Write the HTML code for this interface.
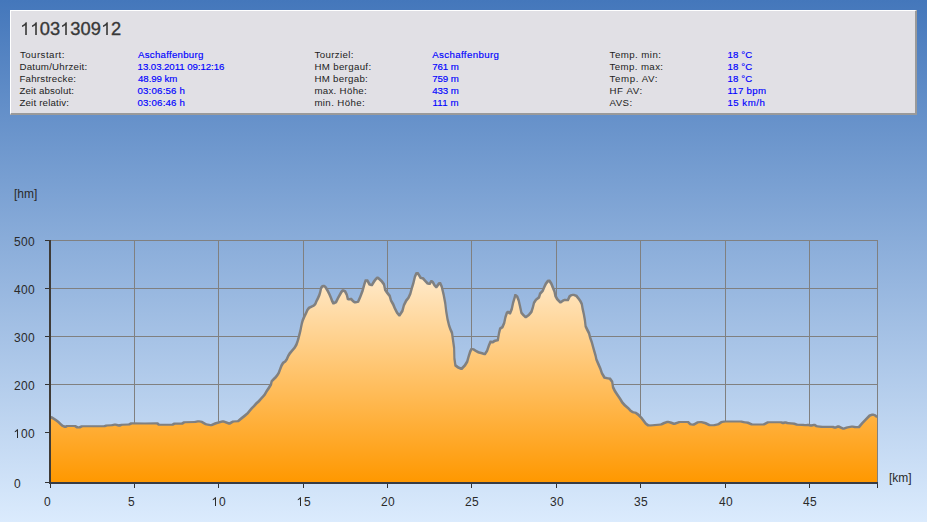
<!DOCTYPE html>
<html><head><meta charset="utf-8"><style>
html,body{margin:0;padding:0;}
body{width:927px;height:522px;overflow:hidden;position:relative;background:linear-gradient(to bottom,#4477bb 0px,#dbebfd 522px);font-family:"Liberation Sans",sans-serif;}
#panel{position:absolute;left:10px;top:10px;width:904px;height:102px;background:#e1e0e5;border-top:1px solid #fff;border-left:1px solid #fff;border-right:2px solid #9a9a9a;border-bottom:2px solid #9a9a9a;}
svg.one{position:static;display:inline-block;vertical-align:baseline;}
.d{display:inline-block;width:7px;}
#title{position:absolute;left:19.5px;top:19px;font-size:18.3px;color:#383838;-webkit-text-stroke:0.35px #383838;white-space:nowrap;line-height:20px;}
.l,.v{position:absolute;font-size:9.7px;line-height:12px;white-space:nowrap;}
.l{color:#222;}
.v{color:#0000ff;-webkit-text-stroke:0.15px #0000ff;}
svg{position:absolute;left:0;top:0;}
.ax{position:absolute;font-size:12px;line-height:14px;color:#2a2a2a;white-space:nowrap;}
</style></head><body>
<div id="panel"></div><div id="title"><svg class="one" width="10.178" height="13.403" viewBox="0 -1500 1139 1500"><path d="M763,0 L583,0 L583,-1147 Q518,-1085 412,-1023 Q306,-961 222,-930 L222,-1104 Q373,-1175 486,-1276 Q599,-1377 646,-1472 L763,-1472 Z" fill="#383838"/></svg><svg class="one" width="10.178" height="13.403" viewBox="0 -1500 1139 1500"><path d="M763,0 L583,0 L583,-1147 Q518,-1085 412,-1023 Q306,-961 222,-930 L222,-1104 Q373,-1175 486,-1276 Q599,-1377 646,-1472 L763,-1472 Z" fill="#383838"/></svg>03<svg class="one" width="10.178" height="13.403" viewBox="0 -1500 1139 1500"><path d="M763,0 L583,0 L583,-1147 Q518,-1085 412,-1023 Q306,-961 222,-930 L222,-1104 Q373,-1175 486,-1276 Q599,-1377 646,-1472 L763,-1472 Z" fill="#383838"/></svg>309<svg class="one" width="10.178" height="13.403" viewBox="0 -1500 1139 1500"><path d="M763,0 L583,0 L583,-1147 Q518,-1085 412,-1023 Q306,-961 222,-930 L222,-1104 Q373,-1175 486,-1276 Q599,-1377 646,-1472 L763,-1472 Z" fill="#383838"/></svg>2</div><div class="l" style="left:20.00px;top:49.0px;letter-spacing:0.445px;">Tourstart:</div><div class="v" style="left:138.00px;top:49.0px;letter-spacing:0.250px;">Aschaffenburg</div><div class="l" style="left:19.40px;top:61.0px;letter-spacing:0.246px;">Datum/Uhrzeit:</div><div class="v" style="left:137.60px;top:61.0px;letter-spacing:-0.078px;">13.03.2011 09:12:16</div><div class="l" style="left:19.40px;top:73.0px;letter-spacing:0.254px;">Fahrstrecke:</div><div class="v" style="left:138.00px;top:73.0px;letter-spacing:-0.058px;">48.99 km</div><div class="l" style="left:19.40px;top:85.0px;letter-spacing:0.150px;">Zeit absolut:</div><div class="v" style="left:137.40px;top:85.0px;letter-spacing:0.201px;">03:06:56 h</div><div class="l" style="left:19.40px;top:97.0px;letter-spacing:0.183px;">Zeit relativ:</div><div class="v" style="left:137.40px;top:97.0px;letter-spacing:0.201px;">03:06:46 h</div><div class="l" style="left:314.60px;top:49.0px;letter-spacing:0.352px;">Tourziel:</div><div class="v" style="left:432.20px;top:49.0px;letter-spacing:0.367px;">Aschaffenburg</div><div class="l" style="left:314.40px;top:61.0px;letter-spacing:0.340px;">HM bergauf:</div><div class="v" style="left:432.20px;top:61.0px;letter-spacing:-0.050px;">761 m</div><div class="l" style="left:314.40px;top:73.0px;letter-spacing:0.312px;">HM bergab:</div><div class="v" style="left:432.20px;top:73.0px;letter-spacing:-0.050px;">759 m</div><div class="l" style="left:314.40px;top:85.0px;letter-spacing:0.310px;">max. Höhe:</div><div class="v" style="left:432.20px;top:85.0px;letter-spacing:-0.050px;">433 m</div><div class="l" style="left:314.40px;top:97.0px;letter-spacing:0.377px;">min. Höhe:</div><div class="v" style="left:432.60px;top:97.0px;letter-spacing:0.100px;">111 m</div><div class="l" style="left:609.60px;top:49.0px;letter-spacing:0.444px;">Temp. min:</div><div class="v" style="left:727.40px;top:49.0px;letter-spacing:0.150px;">18 °C</div><div class="l" style="left:609.60px;top:61.0px;letter-spacing:0.377px;">Temp. max:</div><div class="v" style="left:727.40px;top:61.0px;letter-spacing:0.150px;">18 °C</div><div class="l" style="left:609.60px;top:73.0px;letter-spacing:0.598px;">Temp. AV:</div><div class="v" style="left:727.40px;top:73.0px;letter-spacing:0.150px;">18 °C</div><div class="l" style="left:609.40px;top:85.0px;letter-spacing:0.640px;">HF AV:</div><div class="v" style="left:727.40px;top:85.0px;letter-spacing:0.267px;">117 bpm</div><div class="l" style="left:609.60px;top:97.0px;letter-spacing:0.400px;">AVS:</div><div class="v" style="left:727.40px;top:97.0px;letter-spacing:0.500px;">15 km/h</div>
<svg width="927" height="522" viewBox="0 0 927 522">
<defs><linearGradient id="g" x1="0" y1="240" x2="0" y2="482" gradientUnits="userSpaceOnUse">
<stop offset="0" stop-color="#fff8ee"/><stop offset="1" stop-color="#ff9800"/></linearGradient></defs>
<rect x="51" y="240" width="827" height="1" fill="#808080"/><rect x="51" y="288" width="827" height="1" fill="#808080"/><rect x="51" y="336" width="827" height="1" fill="#808080"/><rect x="51" y="384" width="827" height="1" fill="#808080"/><rect x="51" y="432" width="827" height="1" fill="#808080"/><rect x="134" y="240" width="1" height="242" fill="#808080"/><rect x="218" y="240" width="1" height="242" fill="#808080"/><rect x="303" y="240" width="1" height="242" fill="#808080"/><rect x="387" y="240" width="1" height="242" fill="#808080"/><rect x="471" y="240" width="1" height="242" fill="#808080"/><rect x="556" y="240" width="1" height="242" fill="#808080"/><rect x="640" y="240" width="1" height="242" fill="#808080"/><rect x="725" y="240" width="1" height="242" fill="#808080"/><rect x="809" y="240" width="1" height="242" fill="#808080"/><rect x="877" y="240" width="1" height="242" fill="#808080"/>
<path d="M51,483 L51,417.1 L50.5,417.1 L51.5,417.4 L53.8,418.8 L56.1,420.2 L58.4,422 L60.7,424.3 L62.4,425.7 L65.3,426.9 L67,426 L75,426 L77.3,427.4 L79.6,427.4 L81.9,426.3 L104.3,426.3 L106.5,425.5 L111.9,425.3 L115.1,424.5 L119.4,425.6 L121.6,424.7 L129.1,424.5 L131.3,423.4 L145,423.5 L157.3,423.4 L158.9,424.7 L172.4,424.7 L174.5,423.6 L182.1,423.6 L184.2,422.3 L195,422 L198.3,421.3 L201.5,421.7 L205.8,424.2 L211.2,425.3 L215.5,423.4 L223,421.3 L229.4,423.6 L233.1,421.5 L238,421.2 L240.5,419.1 L244.9,415.6 L247.7,413.3 L249.5,411 L251.8,408.3 L254.1,406 L256.4,403.4 L258.7,401.4 L261,398.8 L263.3,396.3 L264.6,394.8 L266.6,391.3 L268.9,387.9 L271,384.4 L271.7,381.2 L273.5,379.4 L275.8,377.1 L277.6,374.8 L278.7,373 L280.1,369.3 L281.5,365.6 L283.1,362.9 L285.2,361.5 L286.8,359.2 L288.2,356 L289.8,353.4 L292,350.8 L294.6,347.8 L296.4,344.6 L297.6,341.3 L298.5,338.1 L299.2,335.4 L299.9,332.6 L300.6,329.8 L301,327.5 L301.9,323.3 L302.8,320.1 L304.4,316.4 L306,313.2 L307.4,310 L309,307.9 L311.3,306.8 L313.4,305.8 L314.4,305 L315.4,303.8 L316.4,301.3 L318,298.1 L319.4,294.9 L320.3,291.7 L321,288.4 L322,286.6 L323.6,285.9 L325.2,286.8 L326.6,288.9 L327.9,291.2 L329.3,294 L330.7,297.2 L332.1,300.9 L333.4,303.4 L336,302.1 L338.3,297.5 L341.3,292.1 L342.8,290.3 L345.1,291.4 L346.8,294.8 L347.8,298.9 L349,299.5 L351,298.9 L353.2,301.3 L355,302.4 L358.1,301.7 L360.3,296.7 L362.6,290.6 L364.5,283.7 L365.7,280.2 L367.2,280.3 L369.5,284.4 L371.8,285.2 L374.1,281.4 L376.1,278.8 L377.5,277.6 L379.5,279.1 L381.8,281.4 L384,284.4 L385.1,289.8 L387.1,292.6 L389.7,295.9 L391,300.5 L393.2,304.4 L394.8,308.2 L397.1,312.8 L399.4,315.5 L402.4,310.9 L403.9,305.2 L406.2,300.6 L408.5,297.8 L410.3,293.7 L411.8,288.3 L413.4,283 L414.9,276.8 L416.4,273.3 L417.6,273 L419.1,275.3 L420.7,277.9 L423,278.4 L425.3,281 L427.6,283.4 L429.6,284 L431.4,281 L432.9,282.2 L434.5,285.3 L436.3,287.1 L439.1,283.4 L440.1,283 L441.7,286.5 L443.6,294.5 L445.2,302.9 L446.2,311.3 L447.5,319 L449,325.3 L450.3,329 L452,332.9 L453,340.1 L454.1,347.8 L454.4,358.5 L455.4,365.4 L458,367.4 L461.5,368.9 L464.9,365.4 L467.2,361.6 L468.7,356.2 L470.2,351.6 L471.5,349 L473.3,349.3 L475.6,350.8 L478.6,352.4 L481.7,353.1 L484.8,354.2 L487.1,350.8 L488.9,345.5 L490.6,341.6 L492.4,342.4 L494.7,340.9 L497.8,340.1 L499,333.2 L500.1,328.6 L502.4,327.1 L504.2,323 L505.4,317.3 L506.9,312.7 L508,311.9 L510,313.5 L511.8,308.9 L513.1,302.8 L514.6,297.7 L515.3,295.1 L517.2,296.6 L518.7,300.5 L519.9,305.8 L521.4,312.7 L523.3,315 L525.7,317.3 L528.8,315 L531.4,311.9 L532.9,307.3 L534,302.8 L536,299.7 L539,297.4 L540.1,293.6 L542.6,291 L544.4,286.7 L545.9,283.6 L548,280.9 L549.3,280.6 L551.3,283.6 L552.8,287.4 L554.4,291.3 L555.4,295.9 L557.2,299.1 L560.4,302.5 L563.2,300.5 L565,299.9 L567.8,300.2 L569.6,296.4 L571.1,295.3 L573.4,294.8 L576.4,295.9 L578.7,298.7 L580.3,301 L581.8,304 L582.6,308.6 L583.8,314 L584.9,320.1 L585.6,326.2 L587.2,329.6 L589,333.1 L590.2,337.7 L591.8,342.3 L593.3,347.7 L594.8,353 L595.6,355.8 L596.4,359.5 L598.4,364.1 L600.4,368.7 L601.9,373.3 L604.5,377.6 L607.2,378.2 L609.9,378.6 L612.2,381.7 L613,387.1 L614.8,390.9 L617.3,394.7 L619.9,398.5 L622.2,402.4 L624.9,405.4 L628.3,408.2 L630.6,410.8 L632.9,412.3 L635.6,412.8 L638.2,414.6 L641.3,417.7 L643.6,420.7 L645.9,423.8 L648.2,425.4 L650,425.5 L661.2,424.5 L663.9,423.1 L667.7,421.7 L670.9,422.6 L674.1,423.9 L677.4,422.8 L679.5,422 L688.1,422 L690.3,424.2 L693.5,424.7 L697.9,422.3 L701.1,422 L705.4,423.1 L709.7,425.3 L714,425.3 L718.4,424.2 L721.6,422 L724.8,421.5 L741,421.5 L744.2,422.3 L747.6,422.6 L751.9,424.5 L763.7,424.5 L768,422.3 L781,422.3 L783.2,423.1 L785.3,422.3 L787.5,423.1 L793.9,423.6 L797.2,424.7 L802.6,424.9 L805.8,425.3 L808,424.9 L811.2,425.6 L814.4,424.7 L816.6,426.3 L822,426.9 L832.8,426.9 L835,427.8 L838.3,426.4 L840.7,427.5 L843.4,428.7 L846.9,427.5 L852.2,426.5 L855.3,427.1 L858.9,427.1 L862.2,423.3 L865.8,419.5 L869.6,415.6 L872.6,414.5 L874.9,415.3 L876.8,416.8 L877,416.8 L877,483 Z" fill="url(#g)"/>
<path d="M49.45,416.31 49.71,416.05 51.29,416.05 52.29,416.35 52.55,416.61 52.55,418.19 52.29,418.45 50.71,418.45 49.71,418.15 49.45,417.89ZM50.45,416.61 50.71,416.35 52.29,416.35 54.59,417.75 54.85,418.01 54.85,419.59 54.59,419.85 53.01,419.85 50.71,418.45 50.45,418.19ZM52.75,418.01 53.01,417.75 54.59,417.75 56.89,419.15 57.15,419.41 57.15,420.99 56.89,421.25 55.31,421.25 53.01,419.85 52.75,419.59ZM55.05,419.41 55.31,419.15 56.89,419.15 59.19,420.95 59.45,421.21 59.45,422.79 59.19,423.05 57.61,423.05 55.31,421.25 55.05,420.99ZM57.35,421.21 57.61,420.95 59.19,420.95 59.45,421.21 61.75,423.51 61.75,425.09 61.49,425.35 59.91,425.35 57.35,422.79ZM59.65,423.51 59.91,423.25 61.49,423.25 63.19,424.65 63.45,424.91 63.45,426.49 63.19,426.75 61.61,426.75 59.91,425.35 59.65,425.09ZM61.35,424.91 61.61,424.65 63.19,424.65 66.09,425.85 66.35,426.11 66.35,427.69 66.09,427.95 64.51,427.95 61.61,426.75 61.35,426.49ZM64.25,426.11 64.51,425.85 66.21,424.95 67.79,424.95 68.05,425.21 68.05,426.79 67.79,427.05 66.09,427.95 64.51,427.95 64.25,427.69ZM65.95,425.21 66.21,424.95 75.79,424.95 76.05,425.21 76.05,426.79 75.79,427.05 66.21,427.05 65.95,426.79ZM73.95,425.21 74.21,424.95 75.79,424.95 78.09,426.35 78.35,426.61 78.35,428.19 78.09,428.45 76.51,428.45 74.21,427.05 73.95,426.79ZM76.25,426.61 76.51,426.35 80.39,426.35 80.65,426.61 80.65,428.19 80.39,428.45 76.51,428.45 76.25,428.19ZM78.55,426.61 78.81,426.35 81.11,425.25 82.69,425.25 82.95,425.51 82.95,427.09 82.69,427.35 80.39,428.45 78.81,428.45 78.55,428.19ZM80.85,425.51 81.11,425.25 105.09,425.25 105.35,425.51 105.35,427.09 105.09,427.35 81.11,427.35 80.85,427.09ZM103.25,425.51 103.51,425.25 105.71,424.45 107.29,424.45 107.55,424.71 107.55,426.29 107.29,426.55 105.09,427.35 103.51,427.35 103.25,427.09ZM105.45,424.71 105.71,424.45 111.11,424.25 112.69,424.25 112.95,424.51 112.95,426.09 112.69,426.35 107.29,426.55 105.71,426.55 105.45,426.29ZM110.85,424.51 111.11,424.25 114.31,423.45 115.89,423.45 116.15,423.71 116.15,425.29 115.89,425.55 112.69,426.35 111.11,426.35 110.85,426.09ZM114.05,423.71 114.31,423.45 115.89,423.45 120.19,424.55 120.45,424.81 120.45,426.39 120.19,426.65 118.61,426.65 114.31,425.55 114.05,425.29ZM118.35,424.81 118.61,424.55 120.81,423.65 122.39,423.65 122.65,423.91 122.65,425.49 122.39,425.75 120.19,426.65 118.61,426.65 118.35,426.39ZM120.55,423.91 120.81,423.65 128.31,423.45 129.89,423.45 130.15,423.71 130.15,425.29 129.89,425.55 122.39,425.75 120.81,425.75 120.55,425.49ZM128.05,423.71 128.31,423.45 130.51,422.35 132.09,422.35 132.35,422.61 132.35,424.19 132.09,424.45 129.89,425.55 128.31,425.55 128.05,425.29ZM130.25,422.61 130.51,422.35 132.09,422.35 145.79,422.45 146.05,422.71 146.05,424.29 145.79,424.55 144.21,424.55 130.51,424.45 130.25,424.19ZM143.95,422.71 144.21,422.45 156.51,422.35 158.09,422.35 158.35,422.61 158.35,424.19 158.09,424.45 145.79,424.55 144.21,424.55 143.95,424.29ZM156.25,422.61 156.51,422.35 158.09,422.35 159.69,423.65 159.95,423.91 159.95,425.49 159.69,425.75 158.11,425.75 156.51,424.45 156.25,424.19ZM157.85,423.91 158.11,423.65 173.19,423.65 173.45,423.91 173.45,425.49 173.19,425.75 158.11,425.75 157.85,425.49ZM171.35,423.91 171.61,423.65 173.71,422.55 175.29,422.55 175.55,422.81 175.55,424.39 175.29,424.65 173.19,425.75 171.61,425.75 171.35,425.49ZM173.45,422.81 173.71,422.55 182.89,422.55 183.15,422.81 183.15,424.39 182.89,424.65 173.71,424.65 173.45,424.39ZM181.05,422.81 181.31,422.55 183.41,421.25 184.99,421.25 185.25,421.51 185.25,423.09 184.99,423.35 182.89,424.65 181.31,424.65 181.05,424.39ZM183.15,421.51 183.41,421.25 194.21,420.95 195.79,420.95 196.05,421.21 196.05,422.79 195.79,423.05 184.99,423.35 183.41,423.35 183.15,423.09ZM193.95,421.21 194.21,420.95 197.51,420.25 199.09,420.25 199.35,420.51 199.35,422.09 199.09,422.35 195.79,423.05 194.21,423.05 193.95,422.79ZM197.25,420.51 197.51,420.25 199.09,420.25 202.29,420.65 202.55,420.91 202.55,422.49 202.29,422.75 200.71,422.75 197.51,422.35 197.25,422.09ZM200.45,420.91 200.71,420.65 202.29,420.65 206.59,423.15 206.85,423.41 206.85,424.99 206.59,425.25 205.01,425.25 200.71,422.75 200.45,422.49ZM204.75,423.41 205.01,423.15 206.59,423.15 211.99,424.25 212.25,424.51 212.25,426.09 211.99,426.35 210.41,426.35 205.01,425.25 204.75,424.99ZM210.15,424.51 210.41,424.25 214.71,422.35 216.29,422.35 216.55,422.61 216.55,424.19 216.29,424.45 211.99,426.35 210.41,426.35 210.15,426.09ZM214.45,422.61 214.71,422.35 222.21,420.25 223.79,420.25 224.05,420.51 224.05,422.09 223.79,422.35 216.29,424.45 214.71,424.45 214.45,424.19ZM221.95,420.51 222.21,420.25 223.79,420.25 230.19,422.55 230.45,422.81 230.45,424.39 230.19,424.65 228.61,424.65 222.21,422.35 221.95,422.09ZM228.35,422.81 228.61,422.55 232.31,420.45 233.89,420.45 234.15,420.71 234.15,422.29 233.89,422.55 230.19,424.65 228.61,424.65 228.35,424.39ZM232.05,420.71 232.31,420.45 237.21,420.15 238.79,420.15 239.05,420.41 239.05,421.99 238.79,422.25 233.89,422.55 232.31,422.55 232.05,422.29ZM236.95,420.41 237.21,420.15 239.71,418.05 241.29,418.05 241.55,418.31 241.55,419.89 241.29,420.15 238.79,422.25 237.21,422.25 236.95,421.99ZM239.45,418.31 239.71,418.05 244.11,414.55 245.69,414.55 245.95,414.81 245.95,416.39 245.69,416.65 241.29,420.15 239.71,420.15 239.45,419.89ZM243.85,414.81 244.11,414.55 246.91,412.25 248.49,412.25 248.75,412.51 248.75,414.09 248.49,414.35 245.69,416.65 244.11,416.65 243.85,416.39ZM246.65,412.51 248.45,410.21 248.71,409.95 250.29,409.95 250.55,410.21 250.55,411.79 248.75,414.09 248.49,414.35 246.91,414.35 246.65,414.09ZM248.45,410.21 250.75,407.51 251.01,407.25 252.59,407.25 252.85,407.51 252.85,409.09 250.55,411.79 250.29,412.05 248.71,412.05 248.45,411.79ZM250.75,407.51 253.31,404.95 254.89,404.95 255.15,405.21 255.15,406.79 252.59,409.35 251.01,409.35 250.75,409.09ZM253.05,405.21 255.35,402.61 255.61,402.35 257.19,402.35 257.45,402.61 257.45,404.19 255.15,406.79 254.89,407.05 253.31,407.05 253.05,406.79ZM255.35,402.61 255.61,402.35 257.91,400.35 259.49,400.35 259.75,400.61 259.75,402.19 259.49,402.45 257.19,404.45 255.61,404.45 255.35,404.19ZM257.65,400.61 259.95,398.01 260.21,397.75 261.79,397.75 262.05,398.01 262.05,399.59 259.75,402.19 259.49,402.45 257.91,402.45 257.65,402.19ZM259.95,398.01 262.25,395.51 262.51,395.25 264.09,395.25 264.35,395.51 264.35,397.09 262.05,399.59 261.79,399.85 260.21,399.85 259.95,399.59ZM262.25,395.51 263.55,394.01 263.81,393.75 265.39,393.75 265.65,394.01 265.65,395.59 264.35,397.09 264.09,397.35 262.51,397.35 262.25,397.09ZM263.55,394.01 265.55,390.51 265.81,390.25 267.39,390.25 267.65,390.51 267.65,392.09 265.65,395.59 265.39,395.85 263.81,395.85 263.55,395.59ZM265.55,390.51 267.85,387.11 268.11,386.85 269.69,386.85 269.95,387.11 269.95,388.69 267.65,392.09 267.39,392.35 265.81,392.35 265.55,392.09ZM267.85,387.11 269.95,383.61 270.21,383.35 271.79,383.35 272.05,383.61 272.05,385.19 269.95,388.69 269.69,388.95 268.11,388.95 267.85,388.69ZM269.95,383.61 270.65,380.41 270.91,380.15 272.49,380.15 272.75,380.41 272.75,381.99 272.05,385.19 271.79,385.45 270.21,385.45 269.95,385.19ZM270.65,380.41 272.71,378.35 274.29,378.35 274.55,378.61 274.55,380.19 272.49,382.25 270.91,382.25 270.65,381.99ZM272.45,378.61 275.01,376.05 276.59,376.05 276.85,376.31 276.85,377.89 274.29,380.45 272.71,380.45 272.45,380.19ZM274.75,376.31 276.55,374.01 276.81,373.75 278.39,373.75 278.65,374.01 278.65,375.59 276.85,377.89 276.59,378.15 275.01,378.15 274.75,377.89ZM276.55,374.01 277.65,372.21 277.91,371.95 279.49,371.95 279.75,372.21 279.75,373.79 278.65,375.59 278.39,375.85 276.81,375.85 276.55,375.59ZM277.65,372.21 279.05,368.51 279.31,368.25 280.89,368.25 281.15,368.51 281.15,370.09 279.75,373.79 279.49,374.05 277.91,374.05 277.65,373.79ZM279.05,368.51 280.45,364.81 280.71,364.55 282.29,364.55 282.55,364.81 282.55,366.39 281.15,370.09 280.89,370.35 279.31,370.35 279.05,370.09ZM280.45,364.81 282.05,362.11 282.31,361.85 283.89,361.85 284.15,362.11 284.15,363.69 282.55,366.39 282.29,366.65 280.71,366.65 280.45,366.39ZM282.05,362.11 282.31,361.85 284.41,360.45 285.99,360.45 286.25,360.71 286.25,362.29 285.99,362.55 283.89,363.95 282.31,363.95 282.05,363.69ZM284.15,360.71 285.75,358.41 286.01,358.15 287.59,358.15 287.85,358.41 287.85,359.99 286.25,362.29 285.99,362.55 284.41,362.55 284.15,362.29ZM285.75,358.41 287.15,355.21 287.41,354.95 288.99,354.95 289.25,355.21 289.25,356.79 287.85,359.99 287.59,360.25 286.01,360.25 285.75,359.99ZM287.15,355.21 288.75,352.61 289.01,352.35 290.59,352.35 290.85,352.61 290.85,354.19 289.25,356.79 288.99,357.05 287.41,357.05 287.15,356.79ZM288.75,352.61 290.95,350.01 291.21,349.75 292.79,349.75 293.05,350.01 293.05,351.59 290.85,354.19 290.59,354.45 289.01,354.45 288.75,354.19ZM290.95,350.01 293.55,347.01 293.81,346.75 295.39,346.75 295.65,347.01 295.65,348.59 293.05,351.59 292.79,351.85 291.21,351.85 290.95,351.59ZM293.55,347.01 295.35,343.81 295.61,343.55 297.19,343.55 297.45,343.81 297.45,345.39 295.65,348.59 295.39,348.85 293.81,348.85 293.55,348.59ZM295.35,343.81 296.55,340.51 296.81,340.25 298.39,340.25 298.65,340.51 298.65,342.09 297.45,345.39 297.19,345.65 295.61,345.65 295.35,345.39ZM296.55,340.51 297.45,337.31 297.71,337.05 299.29,337.05 299.55,337.31 299.55,338.89 298.65,342.09 298.39,342.35 296.81,342.35 296.55,342.09ZM297.45,337.31 298.15,334.61 298.41,334.35 299.99,334.35 300.25,334.61 300.25,336.19 299.55,338.89 299.29,339.15 297.71,339.15 297.45,338.89ZM298.15,334.61 298.85,331.81 299.11,331.55 300.69,331.55 300.95,331.81 300.95,333.39 300.25,336.19 299.99,336.45 298.41,336.45 298.15,336.19ZM298.85,331.81 299.55,329.01 299.81,328.75 301.39,328.75 301.65,329.01 301.65,330.59 300.95,333.39 300.69,333.65 299.11,333.65 298.85,333.39ZM299.55,329.01 299.95,326.71 300.21,326.45 301.79,326.45 302.05,326.71 302.05,328.29 301.65,330.59 301.39,330.85 299.81,330.85 299.55,330.59ZM299.95,326.71 300.85,322.51 301.11,322.25 302.69,322.25 302.95,322.51 302.95,324.09 302.05,328.29 301.79,328.55 300.21,328.55 299.95,328.29ZM300.85,322.51 301.75,319.31 302.01,319.05 303.59,319.05 303.85,319.31 303.85,320.89 302.95,324.09 302.69,324.35 301.11,324.35 300.85,324.09ZM301.75,319.31 303.35,315.61 303.61,315.35 305.19,315.35 305.45,315.61 305.45,317.19 303.85,320.89 303.59,321.15 302.01,321.15 301.75,320.89ZM303.35,315.61 304.95,312.41 305.21,312.15 306.79,312.15 307.05,312.41 307.05,313.99 305.45,317.19 305.19,317.45 303.61,317.45 303.35,317.19ZM304.95,312.41 306.35,309.21 306.61,308.95 308.19,308.95 308.45,309.21 308.45,310.79 307.05,313.99 306.79,314.25 305.21,314.25 304.95,313.99ZM306.35,309.21 307.95,307.11 308.21,306.85 309.79,306.85 310.05,307.11 310.05,308.69 308.45,310.79 308.19,311.05 306.61,311.05 306.35,310.79ZM307.95,307.11 308.21,306.85 310.51,305.75 312.09,305.75 312.35,306.01 312.35,307.59 312.09,307.85 309.79,308.95 308.21,308.95 307.95,308.69ZM310.25,306.01 310.51,305.75 312.61,304.75 314.19,304.75 314.45,305.01 314.45,306.59 314.19,306.85 312.09,307.85 310.51,307.85 310.25,307.59ZM312.35,305.01 312.61,304.75 313.61,303.95 315.19,303.95 315.45,304.21 315.45,305.79 315.19,306.05 314.19,306.85 312.61,306.85 312.35,306.59ZM313.35,304.21 314.35,303.01 314.61,302.75 316.19,302.75 316.45,303.01 316.45,304.59 315.45,305.79 315.19,306.05 313.61,306.05 313.35,305.79ZM314.35,303.01 315.35,300.51 315.61,300.25 317.19,300.25 317.45,300.51 317.45,302.09 316.45,304.59 316.19,304.85 314.61,304.85 314.35,304.59ZM315.35,300.51 316.95,297.31 317.21,297.05 318.79,297.05 319.05,297.31 319.05,298.89 317.45,302.09 317.19,302.35 315.61,302.35 315.35,302.09ZM316.95,297.31 318.35,294.11 318.61,293.85 320.19,293.85 320.45,294.11 320.45,295.69 319.05,298.89 318.79,299.15 317.21,299.15 316.95,298.89ZM318.35,294.11 319.25,290.91 319.51,290.65 321.09,290.65 321.35,290.91 321.35,292.49 320.45,295.69 320.19,295.95 318.61,295.95 318.35,295.69ZM319.25,290.91 319.95,287.61 320.21,287.35 321.79,287.35 322.05,287.61 322.05,289.19 321.35,292.49 321.09,292.75 319.51,292.75 319.25,292.49ZM319.95,287.61 320.95,285.81 321.21,285.55 322.79,285.55 323.05,285.81 323.05,287.39 322.05,289.19 321.79,289.45 320.21,289.45 319.95,289.19ZM320.95,285.81 321.21,285.55 322.81,284.85 324.39,284.85 324.65,285.11 324.65,286.69 324.39,286.95 322.79,287.65 321.21,287.65 320.95,287.39ZM322.55,285.11 322.81,284.85 324.39,284.85 325.99,285.75 326.25,286.01 326.25,287.59 325.99,287.85 324.41,287.85 322.81,286.95 322.55,286.69ZM324.15,286.01 324.41,285.75 325.99,285.75 326.25,286.01 327.65,288.11 327.65,289.69 327.39,289.95 325.81,289.95 325.55,289.69 324.15,287.59ZM325.55,288.11 325.81,287.85 327.39,287.85 327.65,288.11 328.95,290.41 328.95,291.99 328.69,292.25 327.11,292.25 326.85,291.99 325.55,289.69ZM326.85,290.41 327.11,290.15 328.69,290.15 328.95,290.41 330.35,293.21 330.35,294.79 330.09,295.05 328.51,295.05 328.25,294.79 326.85,291.99ZM328.25,293.21 328.51,292.95 330.09,292.95 330.35,293.21 331.75,296.41 331.75,297.99 331.49,298.25 329.91,298.25 329.65,297.99 328.25,294.79ZM329.65,296.41 329.91,296.15 331.49,296.15 331.75,296.41 333.15,300.11 333.15,301.69 332.89,301.95 331.31,301.95 331.05,301.69 329.65,297.99ZM331.05,300.11 331.31,299.85 332.89,299.85 333.15,300.11 334.45,302.61 334.45,304.19 334.19,304.45 332.61,304.45 332.35,304.19 331.05,301.69ZM332.35,302.61 332.61,302.35 335.21,301.05 336.79,301.05 337.05,301.31 337.05,302.89 336.79,303.15 334.19,304.45 332.61,304.45 332.35,304.19ZM334.95,301.31 337.25,296.71 337.51,296.45 339.09,296.45 339.35,296.71 339.35,298.29 337.05,302.89 336.79,303.15 335.21,303.15 334.95,302.89ZM337.25,296.71 340.25,291.31 340.51,291.05 342.09,291.05 342.35,291.31 342.35,292.89 339.35,298.29 339.09,298.55 337.51,298.55 337.25,298.29ZM340.25,291.31 341.75,289.51 342.01,289.25 343.59,289.25 343.85,289.51 343.85,291.09 342.35,292.89 342.09,293.15 340.51,293.15 340.25,292.89ZM341.75,289.51 342.01,289.25 343.59,289.25 345.89,290.35 346.15,290.61 346.15,292.19 345.89,292.45 344.31,292.45 342.01,291.35 341.75,291.09ZM344.05,290.61 344.31,290.35 345.89,290.35 346.15,290.61 347.85,294.01 347.85,295.59 347.59,295.85 346.01,295.85 345.75,295.59 344.05,292.19ZM345.75,294.01 346.01,293.75 347.59,293.75 347.85,294.01 348.85,298.11 348.85,299.69 348.59,299.95 347.01,299.95 346.75,299.69 345.75,295.59ZM346.75,298.11 347.01,297.85 348.59,297.85 349.79,298.45 350.05,298.71 350.05,300.29 349.79,300.55 348.21,300.55 347.01,299.95 346.75,299.69ZM347.95,298.71 348.21,298.45 350.21,297.85 351.79,297.85 352.05,298.11 352.05,299.69 351.79,299.95 349.79,300.55 348.21,300.55 347.95,300.29ZM349.95,298.11 350.21,297.85 351.79,297.85 352.05,298.11 354.25,300.51 354.25,302.09 353.99,302.35 352.41,302.35 352.15,302.09 349.95,299.69ZM352.15,300.51 352.41,300.25 353.99,300.25 355.79,301.35 356.05,301.61 356.05,303.19 355.79,303.45 354.21,303.45 352.41,302.35 352.15,302.09ZM353.95,301.61 354.21,301.35 357.31,300.65 358.89,300.65 359.15,300.91 359.15,302.49 358.89,302.75 355.79,303.45 354.21,303.45 353.95,303.19ZM357.05,300.91 359.25,295.91 359.51,295.65 361.09,295.65 361.35,295.91 361.35,297.49 359.15,302.49 358.89,302.75 357.31,302.75 357.05,302.49ZM359.25,295.91 361.55,289.81 361.81,289.55 363.39,289.55 363.65,289.81 363.65,291.39 361.35,297.49 361.09,297.75 359.51,297.75 359.25,297.49ZM361.55,289.81 363.45,282.91 363.71,282.65 365.29,282.65 365.55,282.91 365.55,284.49 363.65,291.39 363.39,291.65 361.81,291.65 361.55,291.39ZM363.45,282.91 364.65,279.41 364.91,279.15 366.49,279.15 366.75,279.41 366.75,280.99 365.55,284.49 365.29,284.75 363.71,284.75 363.45,284.49ZM364.65,279.41 364.91,279.15 366.49,279.15 367.99,279.25 368.25,279.51 368.25,281.09 367.99,281.35 366.41,281.35 364.91,281.25 364.65,280.99ZM366.15,279.51 366.41,279.25 367.99,279.25 368.25,279.51 370.55,283.61 370.55,285.19 370.29,285.45 368.71,285.45 368.45,285.19 366.15,281.09ZM368.45,283.61 368.71,283.35 370.29,283.35 372.59,284.15 372.85,284.41 372.85,285.99 372.59,286.25 371.01,286.25 368.71,285.45 368.45,285.19ZM370.75,284.41 373.05,280.61 373.31,280.35 374.89,280.35 375.15,280.61 375.15,282.19 372.85,285.99 372.59,286.25 371.01,286.25 370.75,285.99ZM373.05,280.61 375.05,278.01 375.31,277.75 376.89,277.75 377.15,278.01 377.15,279.59 375.15,282.19 374.89,282.45 373.31,282.45 373.05,282.19ZM375.05,278.01 375.31,277.75 376.71,276.55 378.29,276.55 378.55,276.81 378.55,278.39 378.29,278.65 376.89,279.85 375.31,279.85 375.05,279.59ZM376.45,276.81 376.71,276.55 378.29,276.55 380.29,278.05 380.55,278.31 380.55,279.89 380.29,280.15 378.71,280.15 376.71,278.65 376.45,278.39ZM378.45,278.31 378.71,278.05 380.29,278.05 382.85,280.61 382.85,282.19 382.59,282.45 381.01,282.45 378.45,279.89ZM380.75,280.61 381.01,280.35 382.59,280.35 382.85,280.61 385.05,283.61 385.05,285.19 384.79,285.45 383.21,285.45 382.95,285.19 380.75,282.19ZM382.95,283.61 383.21,283.35 384.79,283.35 385.05,283.61 386.15,289.01 386.15,290.59 385.89,290.85 384.31,290.85 384.05,290.59 382.95,285.19ZM384.05,289.01 384.31,288.75 385.89,288.75 386.15,289.01 388.15,291.81 388.15,293.39 387.89,293.65 386.31,293.65 386.05,293.39 384.05,290.59ZM386.05,291.81 386.31,291.55 387.89,291.55 388.15,291.81 390.75,295.11 390.75,296.69 390.49,296.95 388.91,296.95 388.65,296.69 386.05,293.39ZM388.65,295.11 388.91,294.85 390.49,294.85 390.75,295.11 392.05,299.71 392.05,301.29 391.79,301.55 390.21,301.55 389.95,301.29 388.65,296.69ZM389.95,299.71 390.21,299.45 391.79,299.45 392.05,299.71 394.25,303.61 394.25,305.19 393.99,305.45 392.41,305.45 392.15,305.19 389.95,301.29ZM392.15,303.61 392.41,303.35 393.99,303.35 394.25,303.61 395.85,307.41 395.85,308.99 395.59,309.25 394.01,309.25 393.75,308.99 392.15,305.19ZM393.75,307.41 394.01,307.15 395.59,307.15 395.85,307.41 398.15,312.01 398.15,313.59 397.89,313.85 396.31,313.85 396.05,313.59 393.75,308.99ZM396.05,312.01 396.31,311.75 397.89,311.75 398.15,312.01 400.45,314.71 400.45,316.29 400.19,316.55 398.61,316.55 398.35,316.29 396.05,313.59ZM398.35,314.71 401.35,310.11 401.61,309.85 403.19,309.85 403.45,310.11 403.45,311.69 400.45,316.29 400.19,316.55 398.61,316.55 398.35,316.29ZM401.35,310.11 402.85,304.41 403.11,304.15 404.69,304.15 404.95,304.41 404.95,305.99 403.45,311.69 403.19,311.95 401.61,311.95 401.35,311.69ZM402.85,304.41 405.15,299.81 405.41,299.55 406.99,299.55 407.25,299.81 407.25,301.39 404.95,305.99 404.69,306.25 403.11,306.25 402.85,305.99ZM405.15,299.81 407.45,297.01 407.71,296.75 409.29,296.75 409.55,297.01 409.55,298.59 407.25,301.39 406.99,301.65 405.41,301.65 405.15,301.39ZM407.45,297.01 409.25,292.91 409.51,292.65 411.09,292.65 411.35,292.91 411.35,294.49 409.55,298.59 409.29,298.85 407.71,298.85 407.45,298.59ZM409.25,292.91 410.75,287.51 411.01,287.25 412.59,287.25 412.85,287.51 412.85,289.09 411.35,294.49 411.09,294.75 409.51,294.75 409.25,294.49ZM410.75,287.51 412.35,282.21 412.61,281.95 414.19,281.95 414.45,282.21 414.45,283.79 412.85,289.09 412.59,289.35 411.01,289.35 410.75,289.09ZM412.35,282.21 413.85,276.01 414.11,275.75 415.69,275.75 415.95,276.01 415.95,277.59 414.45,283.79 414.19,284.05 412.61,284.05 412.35,283.79ZM413.85,276.01 415.35,272.51 415.61,272.25 417.19,272.25 417.45,272.51 417.45,274.09 415.95,277.59 415.69,277.85 414.11,277.85 413.85,277.59ZM415.35,272.51 415.61,272.25 416.81,271.95 418.39,271.95 418.65,272.21 418.65,273.79 418.39,274.05 417.19,274.35 415.61,274.35 415.35,274.09ZM416.55,272.21 416.81,271.95 418.39,271.95 418.65,272.21 420.15,274.51 420.15,276.09 419.89,276.35 418.31,276.35 418.05,276.09 416.55,273.79ZM418.05,274.51 418.31,274.25 419.89,274.25 420.15,274.51 421.75,277.11 421.75,278.69 421.49,278.95 419.91,278.95 419.65,278.69 418.05,276.09ZM419.65,277.11 419.91,276.85 421.49,276.85 423.79,277.35 424.05,277.61 424.05,279.19 423.79,279.45 422.21,279.45 419.91,278.95 419.65,278.69ZM421.95,277.61 422.21,277.35 423.79,277.35 424.05,277.61 426.35,280.21 426.35,281.79 426.09,282.05 424.51,282.05 424.25,281.79 421.95,279.19ZM424.25,280.21 424.51,279.95 426.09,279.95 426.35,280.21 428.65,282.61 428.65,284.19 428.39,284.45 426.81,284.45 426.55,284.19 424.25,281.79ZM426.55,282.61 426.81,282.35 428.39,282.35 430.39,282.95 430.65,283.21 430.65,284.79 430.39,285.05 428.81,285.05 426.81,284.45 426.55,284.19ZM428.55,283.21 430.35,280.21 430.61,279.95 432.19,279.95 432.45,280.21 432.45,281.79 430.65,284.79 430.39,285.05 428.81,285.05 428.55,284.79ZM430.35,280.21 430.61,279.95 432.19,279.95 433.69,281.15 433.95,281.41 433.95,282.99 433.69,283.25 432.11,283.25 430.61,282.05 430.35,281.79ZM431.85,281.41 432.11,281.15 433.69,281.15 433.95,281.41 435.55,284.51 435.55,286.09 435.29,286.35 433.71,286.35 433.45,286.09 431.85,282.99ZM433.45,284.51 433.71,284.25 435.29,284.25 437.35,286.31 437.35,287.89 437.09,288.15 435.51,288.15 433.71,286.35 433.45,286.09ZM435.25,286.31 438.05,282.61 438.31,282.35 439.89,282.35 440.15,282.61 440.15,284.19 437.35,287.89 437.09,288.15 435.51,288.15 435.25,287.89ZM438.05,282.61 438.31,282.35 439.31,281.95 440.89,281.95 441.15,282.21 441.15,283.79 440.89,284.05 439.89,284.45 438.31,284.45 438.05,284.19ZM439.05,282.21 439.31,281.95 440.89,281.95 441.15,282.21 442.75,285.71 442.75,287.29 442.49,287.55 440.91,287.55 440.65,287.29 439.05,283.79ZM440.65,285.71 440.91,285.45 442.49,285.45 442.75,285.71 444.65,293.71 444.65,295.29 444.39,295.55 442.81,295.55 442.55,295.29 440.65,287.29ZM442.55,293.71 442.81,293.45 444.39,293.45 444.65,293.71 446.25,302.11 446.25,303.69 445.99,303.95 444.41,303.95 444.15,303.69 442.55,295.29ZM444.15,302.11 444.41,301.85 445.99,301.85 446.25,302.11 447.25,310.51 447.25,312.09 446.99,312.35 445.41,312.35 445.15,312.09 444.15,303.69ZM445.15,310.51 445.41,310.25 446.99,310.25 447.25,310.51 448.55,318.21 448.55,319.79 448.29,320.05 446.71,320.05 446.45,319.79 445.15,312.09ZM446.45,318.21 446.71,317.95 448.29,317.95 448.55,318.21 450.05,324.51 450.05,326.09 449.79,326.35 448.21,326.35 447.95,326.09 446.45,319.79ZM447.95,324.51 448.21,324.25 449.79,324.25 450.05,324.51 451.35,328.21 451.35,329.79 451.09,330.05 449.51,330.05 449.25,329.79 447.95,326.09ZM449.25,328.21 449.51,327.95 451.09,327.95 451.35,328.21 453.05,332.11 453.05,333.69 452.79,333.95 451.21,333.95 450.95,333.69 449.25,329.79ZM450.95,332.11 451.21,331.85 452.79,331.85 453.05,332.11 454.05,339.31 454.05,340.89 453.79,341.15 452.21,341.15 451.95,340.89 450.95,333.69ZM451.95,339.31 452.21,339.05 453.79,339.05 454.05,339.31 455.15,347.01 455.15,348.59 454.89,348.85 453.31,348.85 453.05,348.59 451.95,340.89ZM453.05,347.01 453.31,346.75 454.89,346.75 455.15,347.01 455.45,357.71 455.45,359.29 455.19,359.55 453.61,359.55 453.35,359.29 453.05,348.59ZM453.35,357.71 453.61,357.45 455.19,357.45 455.45,357.71 456.45,364.61 456.45,366.19 456.19,366.45 454.61,366.45 454.35,366.19 453.35,359.29ZM454.35,364.61 454.61,364.35 456.19,364.35 458.79,366.35 459.05,366.61 459.05,368.19 458.79,368.45 457.21,368.45 454.61,366.45 454.35,366.19ZM456.95,366.61 457.21,366.35 458.79,366.35 462.29,367.85 462.55,368.11 462.55,369.69 462.29,369.95 460.71,369.95 457.21,368.45 456.95,368.19ZM460.45,368.11 463.85,364.61 464.11,364.35 465.69,364.35 465.95,364.61 465.95,366.19 462.55,369.69 462.29,369.95 460.71,369.95 460.45,369.69ZM463.85,364.61 466.15,360.81 466.41,360.55 467.99,360.55 468.25,360.81 468.25,362.39 465.95,366.19 465.69,366.45 464.11,366.45 463.85,366.19ZM466.15,360.81 467.65,355.41 467.91,355.15 469.49,355.15 469.75,355.41 469.75,356.99 468.25,362.39 467.99,362.65 466.41,362.65 466.15,362.39ZM467.65,355.41 469.15,350.81 469.41,350.55 470.99,350.55 471.25,350.81 471.25,352.39 469.75,356.99 469.49,357.25 467.91,357.25 467.65,356.99ZM469.15,350.81 470.45,348.21 470.71,347.95 472.29,347.95 472.55,348.21 472.55,349.79 471.25,352.39 470.99,352.65 469.41,352.65 469.15,352.39ZM470.45,348.21 470.71,347.95 472.29,347.95 474.09,348.25 474.35,348.51 474.35,350.09 474.09,350.35 472.51,350.35 470.71,350.05 470.45,349.79ZM472.25,348.51 472.51,348.25 474.09,348.25 476.39,349.75 476.65,350.01 476.65,351.59 476.39,351.85 474.81,351.85 472.51,350.35 472.25,350.09ZM474.55,350.01 474.81,349.75 476.39,349.75 479.39,351.35 479.65,351.61 479.65,353.19 479.39,353.45 477.81,353.45 474.81,351.85 474.55,351.59ZM477.55,351.61 477.81,351.35 479.39,351.35 482.49,352.05 482.75,352.31 482.75,353.89 482.49,354.15 480.91,354.15 477.81,353.45 477.55,353.19ZM480.65,352.31 480.91,352.05 482.49,352.05 485.59,353.15 485.85,353.41 485.85,354.99 485.59,355.25 484.01,355.25 480.91,354.15 480.65,353.89ZM483.75,353.41 486.05,350.01 486.31,349.75 487.89,349.75 488.15,350.01 488.15,351.59 485.85,354.99 485.59,355.25 484.01,355.25 483.75,354.99ZM486.05,350.01 487.85,344.71 488.11,344.45 489.69,344.45 489.95,344.71 489.95,346.29 488.15,351.59 487.89,351.85 486.31,351.85 486.05,351.59ZM487.85,344.71 489.55,340.81 489.81,340.55 491.39,340.55 491.65,340.81 491.65,342.39 489.95,346.29 489.69,346.55 488.11,346.55 487.85,346.29ZM489.55,340.81 489.81,340.55 491.39,340.55 493.19,341.35 493.45,341.61 493.45,343.19 493.19,343.45 491.61,343.45 489.81,342.65 489.55,342.39ZM491.35,341.61 491.61,341.35 493.91,339.85 495.49,339.85 495.75,340.11 495.75,341.69 495.49,341.95 493.19,343.45 491.61,343.45 491.35,343.19ZM493.65,340.11 493.91,339.85 497.01,339.05 498.59,339.05 498.85,339.31 498.85,340.89 498.59,341.15 495.49,341.95 493.91,341.95 493.65,341.69ZM496.75,339.31 497.95,332.41 498.21,332.15 499.79,332.15 500.05,332.41 500.05,333.99 498.85,340.89 498.59,341.15 497.01,341.15 496.75,340.89ZM497.95,332.41 499.05,327.81 499.31,327.55 500.89,327.55 501.15,327.81 501.15,329.39 500.05,333.99 499.79,334.25 498.21,334.25 497.95,333.99ZM499.05,327.81 499.31,327.55 501.61,326.05 503.19,326.05 503.45,326.31 503.45,327.89 503.19,328.15 500.89,329.65 499.31,329.65 499.05,329.39ZM501.35,326.31 503.15,322.21 503.41,321.95 504.99,321.95 505.25,322.21 505.25,323.79 503.45,327.89 503.19,328.15 501.61,328.15 501.35,327.89ZM503.15,322.21 504.35,316.51 504.61,316.25 506.19,316.25 506.45,316.51 506.45,318.09 505.25,323.79 504.99,324.05 503.41,324.05 503.15,323.79ZM504.35,316.51 505.85,311.91 506.11,311.65 507.69,311.65 507.95,311.91 507.95,313.49 506.45,318.09 506.19,318.35 504.61,318.35 504.35,318.09ZM505.85,311.91 506.11,311.65 507.21,310.85 508.79,310.85 509.05,311.11 509.05,312.69 508.79,312.95 507.69,313.75 506.11,313.75 505.85,313.49ZM506.95,311.11 507.21,310.85 508.79,310.85 510.79,312.45 511.05,312.71 511.05,314.29 510.79,314.55 509.21,314.55 507.21,312.95 506.95,312.69ZM508.95,312.71 510.75,308.11 511.01,307.85 512.59,307.85 512.85,308.11 512.85,309.69 511.05,314.29 510.79,314.55 509.21,314.55 508.95,314.29ZM510.75,308.11 512.05,302.01 512.31,301.75 513.89,301.75 514.15,302.01 514.15,303.59 512.85,309.69 512.59,309.95 511.01,309.95 510.75,309.69ZM512.05,302.01 513.55,296.91 513.81,296.65 515.39,296.65 515.65,296.91 515.65,298.49 514.15,303.59 513.89,303.85 512.31,303.85 512.05,303.59ZM513.55,296.91 514.25,294.31 514.51,294.05 516.09,294.05 516.35,294.31 516.35,295.89 515.65,298.49 515.39,298.75 513.81,298.75 513.55,298.49ZM514.25,294.31 514.51,294.05 516.09,294.05 517.99,295.55 518.25,295.81 518.25,297.39 517.99,297.65 516.41,297.65 514.51,296.15 514.25,295.89ZM516.15,295.81 516.41,295.55 517.99,295.55 518.25,295.81 519.75,299.71 519.75,301.29 519.49,301.55 517.91,301.55 517.65,301.29 516.15,297.39ZM517.65,299.71 517.91,299.45 519.49,299.45 519.75,299.71 520.95,305.01 520.95,306.59 520.69,306.85 519.11,306.85 518.85,306.59 517.65,301.29ZM518.85,305.01 519.11,304.75 520.69,304.75 520.95,305.01 522.45,311.91 522.45,313.49 522.19,313.75 520.61,313.75 520.35,313.49 518.85,306.59ZM520.35,311.91 520.61,311.65 522.19,311.65 522.45,311.91 524.35,314.21 524.35,315.79 524.09,316.05 522.51,316.05 522.25,315.79 520.35,313.49ZM522.25,314.21 522.51,313.95 524.09,313.95 526.49,316.25 526.75,316.51 526.75,318.09 526.49,318.35 524.91,318.35 522.51,316.05 522.25,315.79ZM524.65,316.51 524.91,316.25 528.01,313.95 529.59,313.95 529.85,314.21 529.85,315.79 529.59,316.05 526.49,318.35 524.91,318.35 524.65,318.09ZM527.75,314.21 530.35,311.11 530.61,310.85 532.19,310.85 532.45,311.11 532.45,312.69 529.85,315.79 529.59,316.05 528.01,316.05 527.75,315.79ZM530.35,311.11 531.85,306.51 532.11,306.25 533.69,306.25 533.95,306.51 533.95,308.09 532.45,312.69 532.19,312.95 530.61,312.95 530.35,312.69ZM531.85,306.51 532.95,302.01 533.21,301.75 534.79,301.75 535.05,302.01 535.05,303.59 533.95,308.09 533.69,308.35 532.11,308.35 531.85,308.09ZM532.95,302.01 534.95,298.91 535.21,298.65 536.79,298.65 537.05,298.91 537.05,300.49 535.05,303.59 534.79,303.85 533.21,303.85 532.95,303.59ZM534.95,298.91 535.21,298.65 538.21,296.35 539.79,296.35 540.05,296.61 540.05,298.19 539.79,298.45 536.79,300.75 535.21,300.75 534.95,300.49ZM537.95,296.61 539.05,292.81 539.31,292.55 540.89,292.55 541.15,292.81 541.15,294.39 540.05,298.19 539.79,298.45 538.21,298.45 537.95,298.19ZM539.05,292.81 541.55,290.21 541.81,289.95 543.39,289.95 543.65,290.21 543.65,291.79 541.15,294.39 540.89,294.65 539.31,294.65 539.05,294.39ZM541.55,290.21 543.35,285.91 543.61,285.65 545.19,285.65 545.45,285.91 545.45,287.49 543.65,291.79 543.39,292.05 541.81,292.05 541.55,291.79ZM543.35,285.91 544.85,282.81 545.11,282.55 546.69,282.55 546.95,282.81 546.95,284.39 545.45,287.49 545.19,287.75 543.61,287.75 543.35,287.49ZM544.85,282.81 546.95,280.11 547.21,279.85 548.79,279.85 549.05,280.11 549.05,281.69 546.95,284.39 546.69,284.65 545.11,284.65 544.85,284.39ZM546.95,280.11 547.21,279.85 548.51,279.55 550.09,279.55 550.35,279.81 550.35,281.39 550.09,281.65 548.79,281.95 547.21,281.95 546.95,281.69ZM548.25,279.81 548.51,279.55 550.09,279.55 550.35,279.81 552.35,282.81 552.35,284.39 552.09,284.65 550.51,284.65 550.25,284.39 548.25,281.39ZM550.25,282.81 550.51,282.55 552.09,282.55 552.35,282.81 553.85,286.61 553.85,288.19 553.59,288.45 552.01,288.45 551.75,288.19 550.25,284.39ZM551.75,286.61 552.01,286.35 553.59,286.35 553.85,286.61 555.45,290.51 555.45,292.09 555.19,292.35 553.61,292.35 553.35,292.09 551.75,288.19ZM553.35,290.51 553.61,290.25 555.19,290.25 555.45,290.51 556.45,295.11 556.45,296.69 556.19,296.95 554.61,296.95 554.35,296.69 553.35,292.09ZM554.35,295.11 554.61,294.85 556.19,294.85 556.45,295.11 558.25,298.31 558.25,299.89 557.99,300.15 556.41,300.15 556.15,299.89 554.35,296.69ZM556.15,298.31 556.41,298.05 557.99,298.05 558.25,298.31 561.45,301.71 561.45,303.29 561.19,303.55 559.61,303.55 559.35,303.29 556.15,299.89ZM559.35,301.71 559.61,301.45 562.41,299.45 563.99,299.45 564.25,299.71 564.25,301.29 563.99,301.55 561.19,303.55 559.61,303.55 559.35,303.29ZM562.15,299.71 562.41,299.45 564.21,298.85 565.79,298.85 566.05,299.11 566.05,300.69 565.79,300.95 563.99,301.55 562.41,301.55 562.15,301.29ZM563.95,299.11 564.21,298.85 565.79,298.85 568.59,299.15 568.85,299.41 568.85,300.99 568.59,301.25 567.01,301.25 564.21,300.95 563.95,300.69ZM566.75,299.41 568.55,295.61 568.81,295.35 570.39,295.35 570.65,295.61 570.65,297.19 568.85,300.99 568.59,301.25 567.01,301.25 566.75,300.99ZM568.55,295.61 568.81,295.35 570.31,294.25 571.89,294.25 572.15,294.51 572.15,296.09 571.89,296.35 570.39,297.45 568.81,297.45 568.55,297.19ZM570.05,294.51 570.31,294.25 572.61,293.75 574.19,293.75 574.45,294.01 574.45,295.59 574.19,295.85 571.89,296.35 570.31,296.35 570.05,296.09ZM572.35,294.01 572.61,293.75 574.19,293.75 577.19,294.85 577.45,295.11 577.45,296.69 577.19,296.95 575.61,296.95 572.61,295.85 572.35,295.59ZM575.35,295.11 575.61,294.85 577.19,294.85 577.45,295.11 579.75,297.91 579.75,299.49 579.49,299.75 577.91,299.75 577.65,299.49 575.35,296.69ZM577.65,297.91 577.91,297.65 579.49,297.65 579.75,297.91 581.35,300.21 581.35,301.79 581.09,302.05 579.51,302.05 579.25,301.79 577.65,299.49ZM579.25,300.21 579.51,299.95 581.09,299.95 581.35,300.21 582.85,303.21 582.85,304.79 582.59,305.05 581.01,305.05 580.75,304.79 579.25,301.79ZM580.75,303.21 581.01,302.95 582.59,302.95 582.85,303.21 583.65,307.81 583.65,309.39 583.39,309.65 581.81,309.65 581.55,309.39 580.75,304.79ZM581.55,307.81 581.81,307.55 583.39,307.55 583.65,307.81 584.85,313.21 584.85,314.79 584.59,315.05 583.01,315.05 582.75,314.79 581.55,309.39ZM582.75,313.21 583.01,312.95 584.59,312.95 584.85,313.21 585.95,319.31 585.95,320.89 585.69,321.15 584.11,321.15 583.85,320.89 582.75,314.79ZM583.85,319.31 584.11,319.05 585.69,319.05 585.95,319.31 586.65,325.41 586.65,326.99 586.39,327.25 584.81,327.25 584.55,326.99 583.85,320.89ZM584.55,325.41 584.81,325.15 586.39,325.15 586.65,325.41 588.25,328.81 588.25,330.39 587.99,330.65 586.41,330.65 586.15,330.39 584.55,326.99ZM586.15,328.81 586.41,328.55 587.99,328.55 588.25,328.81 590.05,332.31 590.05,333.89 589.79,334.15 588.21,334.15 587.95,333.89 586.15,330.39ZM587.95,332.31 588.21,332.05 589.79,332.05 590.05,332.31 591.25,336.91 591.25,338.49 590.99,338.75 589.41,338.75 589.15,338.49 587.95,333.89ZM589.15,336.91 589.41,336.65 590.99,336.65 591.25,336.91 592.85,341.51 592.85,343.09 592.59,343.35 591.01,343.35 590.75,343.09 589.15,338.49ZM590.75,341.51 591.01,341.25 592.59,341.25 592.85,341.51 594.35,346.91 594.35,348.49 594.09,348.75 592.51,348.75 592.25,348.49 590.75,343.09ZM592.25,346.91 592.51,346.65 594.09,346.65 594.35,346.91 595.85,352.21 595.85,353.79 595.59,354.05 594.01,354.05 593.75,353.79 592.25,348.49ZM593.75,352.21 594.01,351.95 595.59,351.95 595.85,352.21 596.65,355.01 596.65,356.59 596.39,356.85 594.81,356.85 594.55,356.59 593.75,353.79ZM594.55,355.01 594.81,354.75 596.39,354.75 596.65,355.01 597.45,358.71 597.45,360.29 597.19,360.55 595.61,360.55 595.35,360.29 594.55,356.59ZM595.35,358.71 595.61,358.45 597.19,358.45 597.45,358.71 599.45,363.31 599.45,364.89 599.19,365.15 597.61,365.15 597.35,364.89 595.35,360.29ZM597.35,363.31 597.61,363.05 599.19,363.05 599.45,363.31 601.45,367.91 601.45,369.49 601.19,369.75 599.61,369.75 599.35,369.49 597.35,364.89ZM599.35,367.91 599.61,367.65 601.19,367.65 601.45,367.91 602.95,372.51 602.95,374.09 602.69,374.35 601.11,374.35 600.85,374.09 599.35,369.49ZM600.85,372.51 601.11,372.25 602.69,372.25 602.95,372.51 605.55,376.81 605.55,378.39 605.29,378.65 603.71,378.65 603.45,378.39 600.85,374.09ZM603.45,376.81 603.71,376.55 605.29,376.55 607.99,377.15 608.25,377.41 608.25,378.99 607.99,379.25 606.41,379.25 603.71,378.65 603.45,378.39ZM606.15,377.41 606.41,377.15 607.99,377.15 610.69,377.55 610.95,377.81 610.95,379.39 610.69,379.65 609.11,379.65 606.41,379.25 606.15,378.99ZM608.85,377.81 609.11,377.55 610.69,377.55 610.95,377.81 613.25,380.91 613.25,382.49 612.99,382.75 611.41,382.75 611.15,382.49 608.85,379.39ZM611.15,380.91 611.41,380.65 612.99,380.65 613.25,380.91 614.05,386.31 614.05,387.89 613.79,388.15 612.21,388.15 611.95,387.89 611.15,382.49ZM611.95,386.31 612.21,386.05 613.79,386.05 614.05,386.31 615.85,390.11 615.85,391.69 615.59,391.95 614.01,391.95 613.75,391.69 611.95,387.89ZM613.75,390.11 614.01,389.85 615.59,389.85 615.85,390.11 618.35,393.91 618.35,395.49 618.09,395.75 616.51,395.75 616.25,395.49 613.75,391.69ZM616.25,393.91 616.51,393.65 618.09,393.65 618.35,393.91 620.95,397.71 620.95,399.29 620.69,399.55 619.11,399.55 618.85,399.29 616.25,395.49ZM618.85,397.71 619.11,397.45 620.69,397.45 620.95,397.71 623.25,401.61 623.25,403.19 622.99,403.45 621.41,403.45 621.15,403.19 618.85,399.29ZM621.15,401.61 621.41,401.35 622.99,401.35 623.25,401.61 625.95,404.61 625.95,406.19 625.69,406.45 624.11,406.45 623.85,406.19 621.15,403.19ZM623.85,404.61 624.11,404.35 625.69,404.35 629.09,407.15 629.35,407.41 629.35,408.99 629.09,409.25 627.51,409.25 624.11,406.45 623.85,406.19ZM627.25,407.41 627.51,407.15 629.09,407.15 629.35,407.41 631.65,410.01 631.65,411.59 631.39,411.85 629.81,411.85 629.55,411.59 627.25,408.99ZM629.55,410.01 629.81,409.75 631.39,409.75 633.69,411.25 633.95,411.51 633.95,413.09 633.69,413.35 632.11,413.35 629.81,411.85 629.55,411.59ZM631.85,411.51 632.11,411.25 633.69,411.25 636.39,411.75 636.65,412.01 636.65,413.59 636.39,413.85 634.81,413.85 632.11,413.35 631.85,413.09ZM634.55,412.01 634.81,411.75 636.39,411.75 638.99,413.55 639.25,413.81 639.25,415.39 638.99,415.65 637.41,415.65 634.81,413.85 634.55,413.59ZM637.15,413.81 637.41,413.55 638.99,413.55 642.09,416.65 642.35,416.91 642.35,418.49 642.09,418.75 640.51,418.75 637.15,415.39ZM640.25,416.91 640.51,416.65 642.09,416.65 642.35,416.91 644.65,419.91 644.65,421.49 644.39,421.75 642.81,421.75 642.55,421.49 640.25,418.49ZM642.55,419.91 642.81,419.65 644.39,419.65 644.65,419.91 646.95,423.01 646.95,424.59 646.69,424.85 645.11,424.85 644.85,424.59 642.55,421.49ZM644.85,423.01 645.11,422.75 646.69,422.75 648.99,424.35 649.25,424.61 649.25,426.19 648.99,426.45 647.41,426.45 645.11,424.85 644.85,424.59ZM647.15,424.61 647.41,424.35 648.99,424.35 650.79,424.45 651.05,424.71 651.05,426.29 650.79,426.55 649.21,426.55 647.41,426.45 647.15,426.19ZM648.95,424.71 649.21,424.45 660.41,423.45 661.99,423.45 662.25,423.71 662.25,425.29 661.99,425.55 650.79,426.55 649.21,426.55 648.95,426.29ZM660.15,423.71 660.41,423.45 663.11,422.05 664.69,422.05 664.95,422.31 664.95,423.89 664.69,424.15 661.99,425.55 660.41,425.55 660.15,425.29ZM662.85,422.31 663.11,422.05 666.91,420.65 668.49,420.65 668.75,420.91 668.75,422.49 668.49,422.75 664.69,424.15 663.11,424.15 662.85,423.89ZM666.65,420.91 666.91,420.65 668.49,420.65 671.69,421.55 671.95,421.81 671.95,423.39 671.69,423.65 670.11,423.65 666.91,422.75 666.65,422.49ZM669.85,421.81 670.11,421.55 671.69,421.55 674.89,422.85 675.15,423.11 675.15,424.69 674.89,424.95 673.31,424.95 670.11,423.65 669.85,423.39ZM673.05,423.11 673.31,422.85 676.61,421.75 678.19,421.75 678.45,422.01 678.45,423.59 678.19,423.85 674.89,424.95 673.31,424.95 673.05,424.69ZM676.35,422.01 676.61,421.75 678.71,420.95 680.29,420.95 680.55,421.21 680.55,422.79 680.29,423.05 678.19,423.85 676.61,423.85 676.35,423.59ZM678.45,421.21 678.71,420.95 688.89,420.95 689.15,421.21 689.15,422.79 688.89,423.05 678.71,423.05 678.45,422.79ZM687.05,421.21 687.31,420.95 688.89,420.95 691.09,423.15 691.35,423.41 691.35,424.99 691.09,425.25 689.51,425.25 687.31,423.05 687.05,422.79ZM689.25,423.41 689.51,423.15 691.09,423.15 694.29,423.65 694.55,423.91 694.55,425.49 694.29,425.75 692.71,425.75 689.51,425.25 689.25,424.99ZM692.45,423.91 692.71,423.65 697.11,421.25 698.69,421.25 698.95,421.51 698.95,423.09 698.69,423.35 694.29,425.75 692.71,425.75 692.45,425.49ZM696.85,421.51 697.11,421.25 700.31,420.95 701.89,420.95 702.15,421.21 702.15,422.79 701.89,423.05 698.69,423.35 697.11,423.35 696.85,423.09ZM700.05,421.21 700.31,420.95 701.89,420.95 706.19,422.05 706.45,422.31 706.45,423.89 706.19,424.15 704.61,424.15 700.31,423.05 700.05,422.79ZM704.35,422.31 704.61,422.05 706.19,422.05 710.49,424.25 710.75,424.51 710.75,426.09 710.49,426.35 708.91,426.35 704.61,424.15 704.35,423.89ZM708.65,424.51 708.91,424.25 714.79,424.25 715.05,424.51 715.05,426.09 714.79,426.35 708.91,426.35 708.65,426.09ZM712.95,424.51 713.21,424.25 717.61,423.15 719.19,423.15 719.45,423.41 719.45,424.99 719.19,425.25 714.79,426.35 713.21,426.35 712.95,426.09ZM717.35,423.41 717.61,423.15 720.81,420.95 722.39,420.95 722.65,421.21 722.65,422.79 722.39,423.05 719.19,425.25 717.61,425.25 717.35,424.99ZM720.55,421.21 720.81,420.95 724.01,420.45 725.59,420.45 725.85,420.71 725.85,422.29 725.59,422.55 722.39,423.05 720.81,423.05 720.55,422.79ZM723.75,420.71 724.01,420.45 741.79,420.45 742.05,420.71 742.05,422.29 741.79,422.55 724.01,422.55 723.75,422.29ZM739.95,420.71 740.21,420.45 741.79,420.45 744.99,421.25 745.25,421.51 745.25,423.09 744.99,423.35 743.41,423.35 740.21,422.55 739.95,422.29ZM743.15,421.51 743.41,421.25 744.99,421.25 748.39,421.55 748.65,421.81 748.65,423.39 748.39,423.65 746.81,423.65 743.41,423.35 743.15,423.09ZM746.55,421.81 746.81,421.55 748.39,421.55 752.69,423.45 752.95,423.71 752.95,425.29 752.69,425.55 751.11,425.55 746.81,423.65 746.55,423.39ZM750.85,423.71 751.11,423.45 764.49,423.45 764.75,423.71 764.75,425.29 764.49,425.55 751.11,425.55 750.85,425.29ZM762.65,423.71 762.91,423.45 767.21,421.25 768.79,421.25 769.05,421.51 769.05,423.09 768.79,423.35 764.49,425.55 762.91,425.55 762.65,425.29ZM766.95,421.51 767.21,421.25 781.79,421.25 782.05,421.51 782.05,423.09 781.79,423.35 767.21,423.35 766.95,423.09ZM779.95,421.51 780.21,421.25 781.79,421.25 783.99,422.05 784.25,422.31 784.25,423.89 783.99,424.15 782.41,424.15 780.21,423.35 779.95,423.09ZM782.15,422.31 782.41,422.05 784.51,421.25 786.09,421.25 786.35,421.51 786.35,423.09 786.09,423.35 783.99,424.15 782.41,424.15 782.15,423.89ZM784.25,421.51 784.51,421.25 786.09,421.25 788.29,422.05 788.55,422.31 788.55,423.89 788.29,424.15 786.71,424.15 784.51,423.35 784.25,423.09ZM786.45,422.31 786.71,422.05 788.29,422.05 794.69,422.55 794.95,422.81 794.95,424.39 794.69,424.65 793.11,424.65 786.71,424.15 786.45,423.89ZM792.85,422.81 793.11,422.55 794.69,422.55 797.99,423.65 798.25,423.91 798.25,425.49 797.99,425.75 796.41,425.75 793.11,424.65 792.85,424.39ZM796.15,423.91 796.41,423.65 797.99,423.65 803.39,423.85 803.65,424.11 803.65,425.69 803.39,425.95 801.81,425.95 796.41,425.75 796.15,425.49ZM801.55,424.11 801.81,423.85 803.39,423.85 806.59,424.25 806.85,424.51 806.85,426.09 806.59,426.35 805.01,426.35 801.81,425.95 801.55,425.69ZM804.75,424.51 805.01,424.25 807.21,423.85 808.79,423.85 809.05,424.11 809.05,425.69 808.79,425.95 806.59,426.35 805.01,426.35 804.75,426.09ZM806.95,424.11 807.21,423.85 808.79,423.85 811.99,424.55 812.25,424.81 812.25,426.39 811.99,426.65 810.41,426.65 807.21,425.95 806.95,425.69ZM810.15,424.81 810.41,424.55 813.61,423.65 815.19,423.65 815.45,423.91 815.45,425.49 815.19,425.75 811.99,426.65 810.41,426.65 810.15,426.39ZM813.35,423.91 813.61,423.65 815.19,423.65 817.39,425.25 817.65,425.51 817.65,427.09 817.39,427.35 815.81,427.35 813.61,425.75 813.35,425.49ZM815.55,425.51 815.81,425.25 817.39,425.25 822.79,425.85 823.05,426.11 823.05,427.69 822.79,427.95 821.21,427.95 815.81,427.35 815.55,427.09ZM820.95,426.11 821.21,425.85 833.59,425.85 833.85,426.11 833.85,427.69 833.59,427.95 821.21,427.95 820.95,427.69ZM831.75,426.11 832.01,425.85 833.59,425.85 835.79,426.75 836.05,427.01 836.05,428.59 835.79,428.85 834.21,428.85 832.01,427.95 831.75,427.69ZM833.95,427.01 834.21,426.75 837.51,425.35 839.09,425.35 839.35,425.61 839.35,427.19 839.09,427.45 835.79,428.85 834.21,428.85 833.95,428.59ZM837.25,425.61 837.51,425.35 839.09,425.35 841.49,426.45 841.75,426.71 841.75,428.29 841.49,428.55 839.91,428.55 837.51,427.45 837.25,427.19ZM839.65,426.71 839.91,426.45 841.49,426.45 844.19,427.65 844.45,427.91 844.45,429.49 844.19,429.75 842.61,429.75 839.91,428.55 839.65,428.29ZM842.35,427.91 842.61,427.65 846.11,426.45 847.69,426.45 847.95,426.71 847.95,428.29 847.69,428.55 844.19,429.75 842.61,429.75 842.35,429.49ZM845.85,426.71 846.11,426.45 851.41,425.45 852.99,425.45 853.25,425.71 853.25,427.29 852.99,427.55 847.69,428.55 846.11,428.55 845.85,428.29ZM851.15,425.71 851.41,425.45 852.99,425.45 856.09,426.05 856.35,426.31 856.35,427.89 856.09,428.15 854.51,428.15 851.41,427.55 851.15,427.29ZM854.25,426.31 854.51,426.05 859.69,426.05 859.95,426.31 859.95,427.89 859.69,428.15 854.51,428.15 854.25,427.89ZM857.85,426.31 861.15,422.51 861.41,422.25 862.99,422.25 863.25,422.51 863.25,424.09 859.95,427.89 859.69,428.15 858.11,428.15 857.85,427.89ZM861.15,422.51 864.75,418.71 865.01,418.45 866.59,418.45 866.85,418.71 866.85,420.29 863.25,424.09 862.99,424.35 861.41,424.35 861.15,424.09ZM864.75,418.71 868.55,414.81 868.81,414.55 870.39,414.55 870.65,414.81 870.65,416.39 866.85,420.29 866.59,420.55 865.01,420.55 864.75,420.29ZM868.55,414.81 868.81,414.55 871.81,413.45 873.39,413.45 873.65,413.71 873.65,415.29 873.39,415.55 870.39,416.65 868.81,416.65 868.55,416.39ZM871.55,413.71 871.81,413.45 873.39,413.45 875.69,414.25 875.95,414.51 875.95,416.09 875.69,416.35 874.11,416.35 871.81,415.55 871.55,415.29ZM873.85,414.51 874.11,414.25 875.69,414.25 877.59,415.75 877.85,416.01 877.85,417.59 877.59,417.85 876.01,417.85 874.11,416.35 873.85,416.09Z" fill="#808080" fill-rule="nonzero"/>
<rect x="49" y="240" width="2" height="244" fill="#3e3a36"/>
<rect x="49" y="482" width="829" height="2" fill="#383c44"/>
<rect x="45" y="240" width="4" height="1" fill="#333"/><rect x="45" y="288" width="4" height="1" fill="#333"/><rect x="45" y="336" width="4" height="1" fill="#333"/><rect x="45" y="384" width="4" height="1" fill="#333"/><rect x="45" y="432" width="4" height="1" fill="#333"/><rect x="45" y="482" width="4" height="1" fill="#333"/><rect x="50" y="484" width="1" height="4" fill="#333"/><rect x="134" y="484" width="1" height="4" fill="#333"/><rect x="218" y="484" width="1" height="4" fill="#333"/><rect x="303" y="484" width="1" height="4" fill="#333"/><rect x="387" y="484" width="1" height="4" fill="#333"/><rect x="471" y="484" width="1" height="4" fill="#333"/><rect x="556" y="484" width="1" height="4" fill="#333"/><rect x="640" y="484" width="1" height="4" fill="#333"/><rect x="725" y="484" width="1" height="4" fill="#333"/><rect x="809" y="484" width="1" height="4" fill="#333"/><rect x="877" y="484" width="1" height="4" fill="#333"/>
</svg>
<div class="ax" style="left:14px;top:187px">[hm]</div>
<div class="ax" style="left:889px;top:471px">[km]</div>
<div class="ax" style="left:14px;top:234.9px"><span class="d">5</span><span class="d">0</span><span class="d">0</span></div><div class="ax" style="left:14px;top:282.9px"><span class="d">4</span><span class="d">0</span><span class="d">0</span></div><div class="ax" style="left:14px;top:330.9px"><span class="d">3</span><span class="d">0</span><span class="d">0</span></div><div class="ax" style="left:14px;top:378.9px"><span class="d">2</span><span class="d">0</span><span class="d">0</span></div><div class="ax" style="left:14px;top:426.9px"><svg class="one" width="7" height="10" viewBox="0 -10 7 10"><path d="M3,0 L4,0 L4,-8.7 L3.1,-8.7 Q2.5,-7.5 0.8,-6.7 L0.8,-5.7 Q2.1,-6.2 3,-7.0 Z" fill="#2a2a2a"/></svg><span class="d">0</span><span class="d">0</span></div><div class="ax" style="left:14px;top:476.9px"><span class="d">0</span></div><div class="ax" style="left:44px;top:495px"><span class="d">0</span></div><div class="ax" style="left:128px;top:495px"><span class="d">5</span></div><div class="ax" style="left:212px;top:495px"><svg class="one" width="7" height="10" viewBox="0 -10 7 10"><path d="M3,0 L4,0 L4,-8.7 L3.1,-8.7 Q2.5,-7.5 0.8,-6.7 L0.8,-5.7 Q2.1,-6.2 3,-7.0 Z" fill="#2a2a2a"/></svg><span class="d">0</span></div><div class="ax" style="left:297px;top:495px"><svg class="one" width="7" height="10" viewBox="0 -10 7 10"><path d="M3,0 L4,0 L4,-8.7 L3.1,-8.7 Q2.5,-7.5 0.8,-6.7 L0.8,-5.7 Q2.1,-6.2 3,-7.0 Z" fill="#2a2a2a"/></svg><span class="d">5</span></div><div class="ax" style="left:381px;top:495px"><span class="d">2</span><span class="d">0</span></div><div class="ax" style="left:465px;top:495px"><span class="d">2</span><span class="d">5</span></div><div class="ax" style="left:550px;top:495px"><span class="d">3</span><span class="d">0</span></div><div class="ax" style="left:634px;top:495px"><span class="d">3</span><span class="d">5</span></div><div class="ax" style="left:719px;top:495px"><span class="d">4</span><span class="d">0</span></div><div class="ax" style="left:803px;top:495px"><span class="d">4</span><span class="d">5</span></div></body></html>
